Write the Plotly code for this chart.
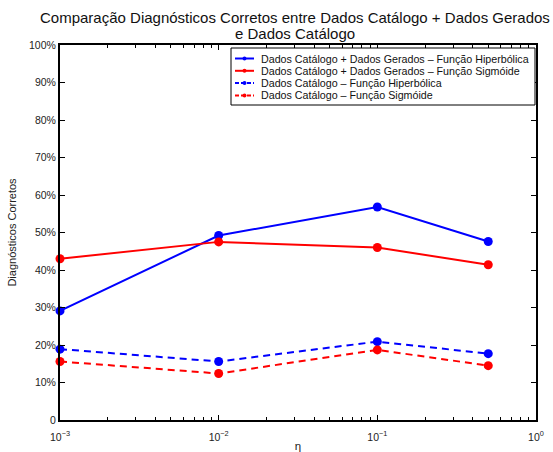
import plotly.graph_objects as go

eta = [0.001, 0.01, 0.1, 0.5]
cat_ger_hip = [29.1, 49.2, 56.8, 47.6]
cat_ger_sig = [43.0, 47.5, 46.0, 41.4]
cat_hip = [18.9, 15.6, 20.9, 17.7]
cat_sig = [15.6, 12.4, 18.7, 14.5]

names = [
    "Dados Catálogo + Dados Gerados – Função Hiperbólica",
    "Dados Catálogo + Dados Gerados – Função Sigmóide",
    "Dados Catálogo – Função Hiperbólica",
    "Dados Catálogo – Função Sigmóide",
]
series = [cat_ger_hip, cat_ger_sig, cat_hip, cat_sig]
colors = ["#0000ff", "#ff0000", "#0000ff", "#ff0000"]
dashes = ["solid", "solid", "7px,5px", "7px,5px"]

yticks = [0, 10, 20, 30, 40, 50, 60, 70, 80, 90, 100]
ytext = ["0"] + [f"{v}%" for v in yticks[1:]]

title_lines = ["Comparação Diagnósticos Corretos entre Dados Catálogo + Dados Gerados",
               "e Dados Catálogo"]

W, H = 553, 452
ML, MR, MT, MB = 60, 17, 45, 32
PW, PH = W - ML - MR, H - MT - MB


def px(x):
    return (x - ML) / PW


def py(y):
    return 1 - (y - MT) / PH


fig = go.Figure()
for n, s, c, d in zip(names, series, colors, dashes):
    fig.add_trace(go.Scatter(
        x=eta, y=s, name=n, mode="lines+markers",
        line=dict(color=c, width=2, dash=d),
        marker=dict(color=c, size=9, symbol="circle"),
        showlegend=False, cliponaxis=False,
    ))

minor_vals = [m * 10 ** e for e in (-3, -2, -1) for m in range(2, 10)]

font = "Liberation Sans, Arial, sans-serif"

shapes = []
annotations = []

# custom legend box
shapes.append(dict(type="rect", xref="paper", yref="paper",
                   x0=px(231), x1=px(535), y0=py(105), y1=py(48),
                   line=dict(color="black", width=1), fillcolor="white", layer="above"))
for i, (n, c, d) in enumerate(zip(names, colors, dashes)):
    yy = 58.5 + 12.3 * i
    shapes.append(dict(type="line", xref="paper", yref="paper",
                       x0=px(235), x1=px(254), y0=py(yy), y1=py(yy),
                       line=dict(color=c, width=2, dash="4px,2px" if d != "solid" else "solid"),
                       layer="above"))
    shapes.append(dict(type="circle", xref="paper", yref="paper",
                       x0=px(242.5), x1=px(246.5), y0=py(yy + 2), y1=py(yy - 2),
                       line=dict(color=c, width=0), fillcolor=c, layer="above"))
    annotations.append(dict(text=n, xref="paper", yref="paper", x=px(259), y=py(yy),
                            xanchor="left", yanchor="middle", showarrow=False,
                            font=dict(size=10.7, color="#111111")))

# title
annotations.append(dict(text=title_lines[0], xref="paper", yref="paper",
                        x=px(295), y=py(28.5), xanchor="center", yanchor="bottom",
                        showarrow=False, font=dict(size=15, color="#111111")))
annotations.append(dict(text=title_lines[1], xref="paper", yref="paper",
                        x=px(295), y=py(44.5), xanchor="center", yanchor="bottom",
                        showarrow=False, font=dict(size=15, color="#111111")))

fig.update_layout(
    width=W, height=H,
    margin=dict(l=ML, r=MR, t=MT, b=MB, autoexpand=False),
    paper_bgcolor="white", plot_bgcolor="white",
    font=dict(family=font, size=10.5, color="#222222"),
    showlegend=False,
    shapes=shapes,
    annotations=annotations,
    xaxis=dict(
        type="log", range=[-3, 0], automargin=False,
        tickvals=[0.001, 0.01, 0.1, 1],
        ticktext=["10<sup>−3</sup>", "10<sup>−2</sup>", "10<sup>−1</sup>", "10<sup>0</sup>"],
        ticks="inside", ticklen=5, tickwidth=1, tickcolor="black",
        ticklabelstandoff=6,
        minor=dict(tickvals=minor_vals, ticks="inside", ticklen=3, tickcolor="black", showgrid=False),
        showline=True, linecolor="black", linewidth=2, mirror="allticks",
        showgrid=False, zeroline=False,
        title=dict(text="η", standoff=2, font=dict(size=11.5)),
    ),
    yaxis=dict(
        range=[0, 100], automargin=False,
        tickvals=yticks, ticktext=ytext,
        ticks="inside", ticklen=5, tickwidth=1, tickcolor="black",
        showline=True, linecolor="black", linewidth=2, mirror="allticks",
        showgrid=False, zeroline=False,
        title=dict(text="Diagnósticos Corretos", standoff=10, font=dict(size=11)),
    ),
)

fig.write_html("out.html")
